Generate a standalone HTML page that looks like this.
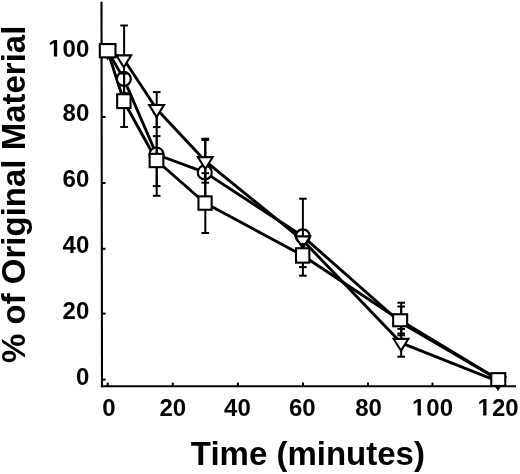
<!DOCTYPE html>
<html><head><meta charset="utf-8"><style>
html,body{margin:0;padding:0;background:#fff;}
svg{display:block;will-change:transform;}
.tk{font-family:"Liberation Sans",sans-serif;font-weight:bold;font-size:24px;fill:#000;}
.ti{font-family:"Liberation Sans",sans-serif;font-weight:bold;font-size:33px;fill:#000;}
</style></head><body>
<svg width="520" height="474" viewBox="0 0 520 474">
<rect width="520" height="474" fill="#fff"/>
<g stroke="#000" stroke-linecap="butt">
<line x1="101.5" y1="1.8" x2="102.0" y2="387.2" stroke-width="2.1"/>
<line x1="100.8" y1="386.2" x2="516" y2="386.2" stroke-width="2"/>
<line x1="102" y1="379.6" x2="105.6" y2="379.6" stroke-width="2"/>
<line x1="102" y1="313.6" x2="105.6" y2="313.6" stroke-width="2"/>
<line x1="102" y1="248.8" x2="105.6" y2="248.8" stroke-width="2"/>
<line x1="102" y1="183" x2="105.6" y2="183" stroke-width="2"/>
<line x1="102" y1="117" x2="105.6" y2="117" stroke-width="2"/>
<line x1="102" y1="50.6" x2="105.6" y2="50.6" stroke-width="2"/>
<line x1="107.7" y1="382.6" x2="107.7" y2="386" stroke-width="2"/>
<line x1="172.8" y1="382.6" x2="172.8" y2="386" stroke-width="2"/>
<line x1="237.9" y1="382.6" x2="237.9" y2="386" stroke-width="2"/>
<line x1="303" y1="382.6" x2="303" y2="386" stroke-width="2"/>
<line x1="368" y1="382.6" x2="368" y2="386" stroke-width="2"/>
<line x1="432.5" y1="382.6" x2="432.5" y2="386" stroke-width="2"/>
<line x1="498.2" y1="382.6" x2="498.2" y2="386" stroke-width="2"/>
<polyline points="107.6,50.6 123.8,59.3 156.6,109.0 205.3,161.1 302.8,240.3 401.0,342.8 498.0,381.3" fill="none" stroke-width="2.9" stroke-linejoin="round"/>
<polyline points="107.6,50.6 123.8,78.9 156.5,154.5 204.8,172.4 302.8,236.3 400.5,322.5 498.2,379.4" fill="none" stroke-width="2.9" stroke-linejoin="round"/>
<polyline points="107.6,50.6 123.8,101.2 156.5,160.5 205.0,203.0 302.7,255.5 400.2,320.3 498.2,379.4" fill="none" stroke-width="2.9" stroke-linejoin="round"/>
<circle cx="123.8" cy="78.9" r="7.00" fill="#fff" stroke-width="2.2"/>
<circle cx="156.5" cy="154.5" r="7.00" fill="#fff" stroke-width="2.2"/>
<circle cx="204.8" cy="172.4" r="7.00" fill="#fff" stroke-width="2.2"/>
<circle cx="302.8" cy="236.3" r="7.00" fill="#fff" stroke-width="2.2"/>
<line x1="156.7" y1="113.2" x2="156.7" y2="195.8" stroke-width="2.0"/>
<line x1="152.9" y1="113.2" x2="160.5" y2="113.2" stroke-width="2.0"/>
<line x1="152.9" y1="195.8" x2="160.5" y2="195.8" stroke-width="2.0"/>
<line x1="205.3" y1="139.0" x2="205.3" y2="205.8" stroke-width="2.0"/>
<line x1="201.5" y1="139.0" x2="209.1" y2="139.0" stroke-width="2.0"/>
<line x1="201.5" y1="205.8" x2="209.1" y2="205.8" stroke-width="2.0"/>
<line x1="302.9" y1="198.7" x2="302.9" y2="275.7" stroke-width="2.0"/>
<line x1="299.1" y1="198.7" x2="306.7" y2="198.7" stroke-width="2.0"/>
<line x1="299.1" y1="275.7" x2="306.7" y2="275.7" stroke-width="2.0"/>
<line x1="401.2" y1="302.7" x2="401.2" y2="335.3" stroke-width="2.0"/>
<line x1="397.4" y1="302.7" x2="405.0" y2="302.7" stroke-width="2.0"/>
<line x1="397.4" y1="335.3" x2="405.0" y2="335.3" stroke-width="2.0"/>
<line x1="124.1" y1="25.5" x2="124.1" y2="93.1" stroke-width="2.0"/>
<line x1="120.3" y1="25.5" x2="127.9" y2="25.5" stroke-width="2.0"/>
<line x1="120.3" y1="93.1" x2="127.9" y2="93.1" stroke-width="2.0"/>
<line x1="156.7" y1="92.1" x2="156.7" y2="127.1" stroke-width="2.0"/>
<line x1="152.9" y1="92.1" x2="160.5" y2="92.1" stroke-width="2.0"/>
<line x1="152.9" y1="127.1" x2="160.5" y2="127.1" stroke-width="2.0"/>
<line x1="205.3" y1="139.6" x2="205.3" y2="182.7" stroke-width="2.0"/>
<line x1="201.5" y1="139.6" x2="209.1" y2="139.6" stroke-width="2.0"/>
<line x1="201.5" y1="182.7" x2="209.1" y2="182.7" stroke-width="2.0"/>
<line x1="401.2" y1="328.9" x2="401.2" y2="356.7" stroke-width="2.0"/>
<line x1="397.4" y1="328.9" x2="405.0" y2="328.9" stroke-width="2.0"/>
<line x1="397.4" y1="356.7" x2="405.0" y2="356.7" stroke-width="2.0"/>
<line x1="201.5" y1="139.3" x2="209.1" y2="139.3" stroke-width="3.2"/>
<polygon points="98.35,45.60 116.85,45.60 107.60,60.60" fill="#000" stroke="none"/><polygon points="102.11,47.70 113.09,47.70 107.60,56.60" fill="#fff" stroke="none"/>
<polygon points="114.55,54.30 133.05,54.30 123.80,69.30" fill="#000" stroke="none"/><polygon points="118.31,56.40 129.29,56.40 123.80,65.30" fill="#fff" stroke="none"/>
<polygon points="147.35,104.00 165.85,104.00 156.60,119.00" fill="#000" stroke="none"/><polygon points="151.11,106.10 162.09,106.10 156.60,115.00" fill="#fff" stroke="none"/>
<polygon points="196.05,156.10 214.55,156.10 205.30,171.10" fill="#000" stroke="none"/><polygon points="199.81,158.20 210.79,158.20 205.30,167.10" fill="#fff" stroke="none"/>
<polygon points="293.55,235.30 312.05,235.30 302.80,250.30" fill="#000" stroke="none"/><polygon points="297.31,237.40 308.29,237.40 302.80,246.30" fill="#fff" stroke="none"/>
<polygon points="391.75,337.80 410.25,337.80 401.00,352.80" fill="#000" stroke="none"/><polygon points="395.51,339.90 406.49,339.90 401.00,348.80" fill="#fff" stroke="none"/>
<polygon points="488.75,376.30 507.25,376.30 498.00,391.30" fill="#000" stroke="none"/><polygon points="492.51,378.40 503.49,378.40 498.00,387.30" fill="#fff" stroke="none"/>
<line x1="124.1" y1="73.6" x2="124.1" y2="127.0" stroke-width="2.0"/>
<line x1="120.3" y1="73.6" x2="127.9" y2="73.6" stroke-width="2.0"/>
<line x1="120.3" y1="127.0" x2="127.9" y2="127.0" stroke-width="2.0"/>
<line x1="156.7" y1="136.1" x2="156.7" y2="186.1" stroke-width="2.0"/>
<line x1="152.9" y1="136.1" x2="160.5" y2="136.1" stroke-width="2.0"/>
<line x1="152.9" y1="186.1" x2="160.5" y2="186.1" stroke-width="2.0"/>
<line x1="205.3" y1="173.2" x2="205.3" y2="233.0" stroke-width="2.0"/>
<line x1="201.5" y1="173.2" x2="209.1" y2="173.2" stroke-width="2.0"/>
<line x1="201.5" y1="233.0" x2="209.1" y2="233.0" stroke-width="2.0"/>
<line x1="302.9" y1="243.9" x2="302.9" y2="267.1" stroke-width="2.0"/>
<line x1="299.1" y1="243.9" x2="306.7" y2="243.9" stroke-width="2.0"/>
<line x1="299.1" y1="267.1" x2="306.7" y2="267.1" stroke-width="2.0"/>
<line x1="401.2" y1="306.5" x2="401.2" y2="333.5" stroke-width="2.0"/>
<line x1="397.4" y1="306.5" x2="405.0" y2="306.5" stroke-width="2.0"/>
<line x1="397.4" y1="333.5" x2="405.0" y2="333.5" stroke-width="2.0"/>
<rect x="98.8" y="43" width="17.70" height="15.40" fill="#000" stroke="none"/>
<rect x="100.90" y="45.10" width="13.50" height="11.20" fill="#fff" stroke="none"/>
<rect x="116.1" y="93.2" width="15.50" height="15.90" fill="#000" stroke="none"/>
<rect x="118.20" y="95.30" width="11.30" height="11.70" fill="#fff" stroke="none"/>
<rect x="148.6" y="152.8" width="15.80" height="15.40" fill="#000" stroke="none"/>
<rect x="150.70" y="154.90" width="11.60" height="11.20" fill="#fff" stroke="none"/>
<rect x="197.4" y="195.3" width="15.30" height="15.50" fill="#000" stroke="none"/>
<rect x="199.50" y="197.40" width="11.10" height="11.30" fill="#fff" stroke="none"/>
<rect x="295" y="247.2" width="15.40" height="16.50" fill="#000" stroke="none"/>
<rect x="297.10" y="249.30" width="11.20" height="12.30" fill="#fff" stroke="none"/>
<rect x="392.1" y="313.2" width="16.10" height="14.10" fill="#000" stroke="none"/>
<rect x="394.20" y="315.30" width="11.90" height="9.90" fill="#fff" stroke="none"/>
<rect x="490.2" y="372.1" width="16.10" height="14.90" fill="#000" stroke="none"/>
<rect x="492.30" y="374.20" width="11.90" height="10.70" fill="#fff" stroke="none"/>
</g>
<path d="M478,0L759,0L759,1409L493,1409L140,1180L140,959L478,1170Z" transform="translate(48.26,56.6) scale(0.011719,-0.011719)" fill="#000"/>
<text x="62.60" y="56.6" class="tk">0</text>
<text x="75.95" y="56.6" class="tk">0</text>
<text x="62.60" y="121.4" class="tk">8</text>
<text x="75.95" y="121.4" class="tk">0</text>
<text x="62.60" y="187.1" class="tk">6</text>
<text x="75.95" y="187.1" class="tk">0</text>
<text x="62.60" y="253.1" class="tk">4</text>
<text x="75.95" y="253.1" class="tk">0</text>
<text x="62.60" y="319" class="tk">2</text>
<text x="75.95" y="319" class="tk">0</text>
<text x="75.95" y="384.7" class="tk">0</text>
<text x="102.33" y="415.6" class="tk">0</text>
<text x="159.45" y="415.6" class="tk">2</text>
<text x="172.80" y="415.6" class="tk">0</text>
<text x="224.05" y="415.6" class="tk">4</text>
<text x="237.40" y="415.6" class="tk">0</text>
<text x="288.95" y="415.6" class="tk">6</text>
<text x="302.30" y="415.6" class="tk">0</text>
<text x="355.15" y="415.6" class="tk">8</text>
<text x="368.50" y="415.6" class="tk">0</text>
<path d="M478,0L759,0L759,1409L493,1409L140,1180L140,959L478,1170Z" transform="translate(411.98,415.6) scale(0.011719,-0.011719)" fill="#000"/>
<text x="426.33" y="415.6" class="tk">0</text>
<text x="439.67" y="415.6" class="tk">0</text>
<path d="M478,0L759,0L759,1409L493,1409L140,1180L140,959L478,1170Z" transform="translate(477.58,415.6) scale(0.011719,-0.011719)" fill="#000"/>
<text x="491.93" y="415.6" class="tk">2</text>
<text x="505.27" y="415.6" class="tk">0</text>
<text x="307.9" y="465.4" text-anchor="middle" class="ti">Time (minutes)</text>
<text transform="translate(25.3,194.3) rotate(-90)" text-anchor="middle" class="ti">% of Original Material</text>
</svg>
</body></html>
